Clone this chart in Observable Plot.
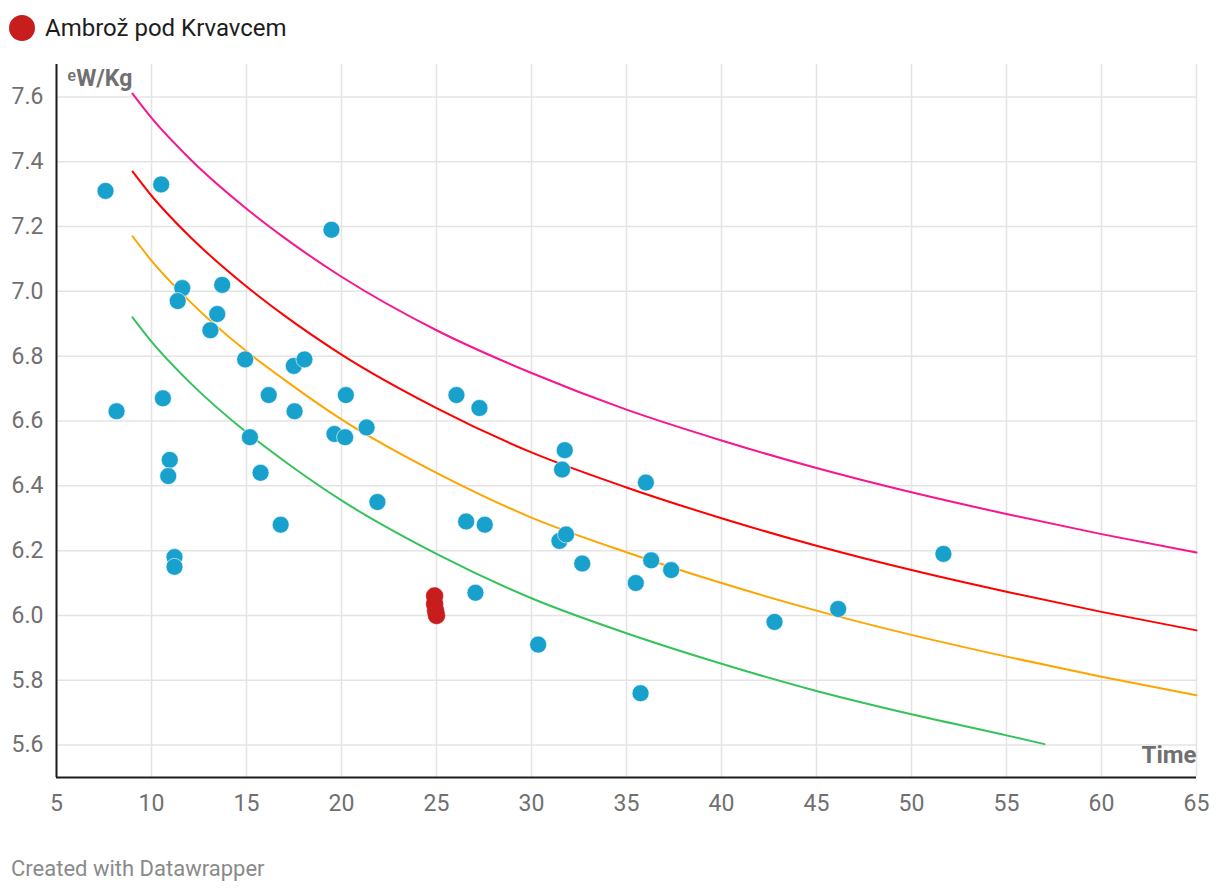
<!DOCTYPE html>
<html>
<head>
<meta charset="utf-8">
<script src="https://cdn.jsdelivr.net/npm/d3@7"></script>
<script src="https://cdn.jsdelivr.net/npm/@observablehq/plot@0.6"></script>
<style>
  html, body { margin: 0; padding: 0; background: #fff; }
  body { width: 1220px; height: 896px; position: relative; font-family: Roboto, sans-serif; overflow: hidden; }
  #legend { position: absolute; left: 9px; top: 14px; height: 27px; display: flex; align-items: center; font-size: 24px; color: #1d1d1d; }
  #legend .sw { width: 26px; height: 26px; border-radius: 50%; background: #c71e1d; margin-right: 10px; }
  #chart { position: absolute; left: 0; top: 50px; }
  #caption { position: absolute; left: 11px; top: 856px; font-size: 22px; color: #8a8a8a; }
</style>
</head>
<body>
<div id="legend"><span class="sw"></span><span id="legendText"></span></div>
<div id="chart"></div>
<div id="caption">Created with Datawrapper</div>
<script>
// ---- data ----
const legendLabel = "Ambrož pod Krvavcem";
const yLabel = "ᵉW/Kg";
const xLabel = "Time";
const xTicks = [5, 10, 15, 20, 25, 30, 35, 40, 45, 50, 55, 60, 65];
const yTicks = [5.6, 5.8, 6.0, 6.2, 6.4, 6.6, 6.8, 7.0, 7.2, 7.4, 7.6];

// reference curves
const curveTimes = [9, 10, 12, 15, 17, 20, 25, 30, 35, 40, 45, 50, 55, 60, 65];
const pinkValues   = [7.61, 7.535, 7.41, 7.255, 7.165, 7.045, 6.88, 6.748, 6.635, 6.54, 6.455, 6.38, 6.313, 6.251, 6.194];
const redValues    = [7.37, 7.295, 7.17, 7.015, 6.925, 6.805, 6.64, 6.503, 6.395, 6.30, 6.215, 6.14, 6.073, 6.011, 5.954];
const orangeValues = [7.17, 7.095, 6.97, 6.815, 6.727, 6.605, 6.44, 6.302, 6.195, 6.10, 6.015, 5.94, 5.873, 5.811, 5.754];
const greenTimes   = [9, 10, 12, 15, 17, 20, 25, 30, 35, 40, 45, 50, 55, 57];
const greenValues  = [6.92, 6.845, 6.72, 6.565, 6.476, 6.355, 6.19, 6.053, 5.945, 5.851, 5.767, 5.695, 5.63, 5.603];

// athletes (blue)
const otherTimes = [7.58, 8.16, 10.51, 10.6, 10.96, 10.88, 11.21, 11.21, 11.62, 11.38, 13.1, 13.46, 13.72, 14.93, 15.18, 15.74, 16.17, 16.8, 17.49, 18.05, 17.53, 19.47, 19.63, 20.23, 20.19, 21.32, 21.89, 26.05, 27.26, 26.56, 27.54, 27.05, 30.35, 31.75, 31.61, 31.47, 31.82, 32.67, 35.49, 36.02, 36.3, 37.35, 35.74, 42.79, 46.14, 51.68];
const otherValues = [7.31, 6.63, 7.33, 6.67, 6.48, 6.43, 6.18, 6.15, 7.01, 6.97, 6.88, 6.93, 7.02, 6.79, 6.55, 6.44, 6.68, 6.28, 6.77, 6.79, 6.63, 7.19, 6.56, 6.68, 6.55, 6.58, 6.35, 6.68, 6.64, 6.29, 6.28, 6.07, 5.91, 6.51, 6.45, 6.23, 6.25, 6.16, 6.10, 6.41, 6.17, 6.14, 5.76, 5.98, 6.02, 6.19];

// highlighted (red)
const ambrozTimes = [24.9, 24.9, 24.95, 25.0];
const ambrozValues = [6.06, 6.035, 6.015, 6.0];

// ---- build tables ----
const toRows = (xs, ys) => xs.map((x, i) => ({x, y: ys[i]}));
const curves = [
  {color: "#f7168f", rows: toRows(curveTimes, pinkValues)},
  {color: "#ff0000", rows: toRows(curveTimes, redValues)},
  {color: "#ffa500", rows: toRows(curveTimes, orangeValues)},
  {color: "#34c35a", rows: toRows(greenTimes, greenValues)}
];
const others = toRows(otherTimes, otherValues);
const ambroz = toRows(ambrozTimes, ambrozValues);

document.getElementById("legendText").textContent = legendLabel;

const chart = Plot.plot({
  width: 1220,
  height: 790,
  marginTop: 14,
  marginLeft: 56,
  marginRight: 24,
  marginBottom: 63,
  style: {fontFamily: "Roboto, sans-serif", background: "#fff", overflow: "visible"},
  x: {domain: [5, 65], ticks: xTicks},
  y: {domain: [5.5, 7.7], ticks: yTicks},
  marks: [
    Plot.gridX(xTicks, {stroke: "#e4e4e4", strokeOpacity: 1, strokeWidth: 1.5}),
    Plot.gridY(yTicks, {stroke: "#e4e4e4", strokeOpacity: 1, strokeWidth: 1.5}),
    Plot.axisX(xTicks, {tickSize: 0, tickPadding: 17, fontSize: 23, fill: "#707070", label: null, tickFormat: d => String(d)}),
    Plot.axisY(yTicks, {tickSize: 0, tickPadding: 13, fontSize: 23, fill: "#707070", label: null, tickFormat: d => d.toFixed(1)}),
    ...curves.map(c => Plot.line(c.rows, {x: "x", y: "y", stroke: c.color, strokeWidth: 2, curve: "monotone-x"})),
    Plot.dot(others, {x: "x", y: "y", r: 8.5, fill: "#18a1cd", stroke: "#fff", strokeWidth: 0.6}),
    Plot.dot(ambroz, {x: "x", y: "y", r: 8.5, fill: "#c71e1d", stroke: "#c71e1d", strokeWidth: 0.6}),
    Plot.ruleX([5], {stroke: "#1d1d1d", strokeWidth: 2}),
    Plot.ruleY([5.5], {stroke: "#1d1d1d", strokeWidth: 2}),
    Plot.text([yLabel], {frameAnchor: "top-left", dx: 11, dy: 5, lineAnchor: "top", textAnchor: "start", fontSize: 23, fontWeight: "bold", fill: "#707070"}),
    Plot.text([xLabel], {frameAnchor: "bottom-right", dx: 0, dy: -15, lineAnchor: "bottom", textAnchor: "end", fontSize: 24, fontWeight: "bold", fill: "#707070"})
  ]
});
document.getElementById("chart").appendChild(chart);
</script>
</body>
</html>
